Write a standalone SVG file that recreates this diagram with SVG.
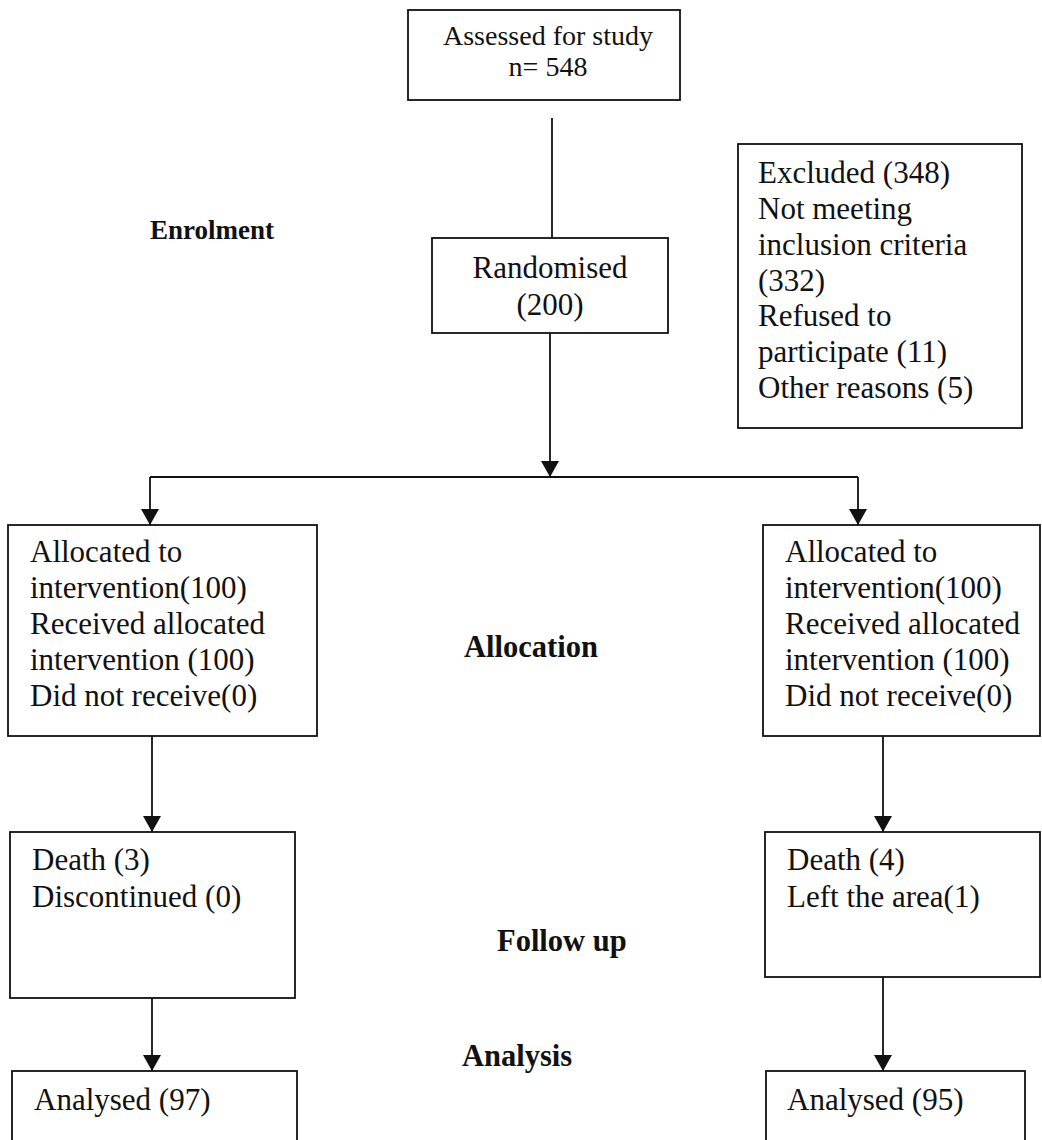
<svg xmlns="http://www.w3.org/2000/svg" width="1042" height="1140" viewBox="0 0 1042 1140">
<style>
.box{fill:#fff;stroke:#111;stroke-width:1.8}
.t{font-family:"Liberation Serif","Times New Roman",serif;font-size:31px;fill:#111}
.ts{font-family:"Liberation Serif","Times New Roman",serif;font-size:28px;fill:#111}
.lab{font-family:"Liberation Serif","Times New Roman",serif;font-size:30.5px;font-weight:bold;fill:#111}
.ln{fill:none;stroke:#111;stroke-width:1.8}
</style>
<defs>
<marker id="ah" markerUnits="userSpaceOnUse" markerWidth="18" markerHeight="18" refX="16" refY="9" orient="auto">
<path d="M0,0 L16,9 L0,18 z" fill="#111"/>
</marker>
</defs>
<rect width="1042" height="1140" fill="#fff"/>
<g id="connectors">
<line class="ln" x1="552" y1="118" x2="552" y2="238"/>
<line class="ln" x1="550" y1="333" x2="550" y2="477" marker-end="url(#ah)"/>
<line class="ln" x1="150" y1="477" x2="858" y2="477"/>
<line class="ln" x1="150" y1="477" x2="150" y2="525" marker-end="url(#ah)"/>
<line class="ln" x1="858" y1="477" x2="858" y2="525" marker-end="url(#ah)"/>
<line class="ln" x1="152" y1="736" x2="152" y2="832" marker-end="url(#ah)"/>
<line class="ln" x1="883" y1="736" x2="883" y2="832" marker-end="url(#ah)"/>
<line class="ln" x1="152" y1="998" x2="152" y2="1071" marker-end="url(#ah)"/>
<line class="ln" x1="883" y1="977" x2="883" y2="1071" marker-end="url(#ah)"/>
</g>
<g id="assessed">
<rect class="box" x="408" y="10" width="272" height="90"/>
<text class="ts" x="548" y="45" text-anchor="middle">Assessed for study</text>
<text class="ts" x="548" y="76" text-anchor="middle">n= 548</text>
</g>
<g id="randomised">
<rect class="box" x="432" y="238" width="236" height="95"/>
<text class="t" x="550" y="278" text-anchor="middle">Randomised</text>
<text class="t" x="550" y="315" text-anchor="middle">(200)</text>
</g>
<g id="excluded">
<rect class="box" x="738" y="144" width="284" height="284"/>
<text class="t" x="758" y="183">Excluded (348)</text>
<text class="t" x="758" y="219">Not meeting</text>
<text class="t" x="758" y="255">inclusion criteria</text>
<text class="t" x="758" y="291">(332)</text>
<text class="t" x="758" y="326">Refused to</text>
<text class="t" x="758" y="362">participate (11)</text>
<text class="t" x="758" y="398">Other reasons (5)</text>
</g>
<g id="alloc-left">
<rect class="box" x="8" y="525" width="309" height="211"/>
<text class="t" x="30" y="562">Allocated to</text>
<text class="t" x="30" y="598">intervention(100)</text>
<text class="t" x="30" y="634">Received allocated</text>
<text class="t" x="30" y="670">intervention (100)</text>
<text class="t" x="30" y="706">Did not receive(0)</text>
</g>
<g id="alloc-right">
<rect class="box" x="763" y="525" width="277" height="211"/>
<text class="t" x="785" y="562">Allocated to</text>
<text class="t" x="785" y="598">intervention(100)</text>
<text class="t" x="785" y="634">Received allocated</text>
<text class="t" x="785" y="670">intervention (100)</text>
<text class="t" x="785" y="706">Did not receive(0)</text>
</g>
<g id="follow-left">
<rect class="box" x="10" y="832" width="285" height="166"/>
<text class="t" x="32" y="870">Death (3)</text>
<text class="t" x="32" y="907">Discontinued (0)</text>
</g>
<g id="follow-right">
<rect class="box" x="765" y="832" width="275" height="145"/>
<text class="t" x="787" y="870">Death (4)</text>
<text class="t" x="787" y="907">Left the area(1)</text>
</g>
<g id="analysed-left">
<rect class="box" x="12" y="1071" width="285" height="90"/>
<text class="t" x="34" y="1110">Analysed (97)</text>
</g>
<g id="analysed-right">
<rect class="box" x="766" y="1071" width="259" height="90"/>
<text class="t" x="787" y="1110">Analysed (95)</text>
</g>
<g id="labels">
<text class="lab" x="150" y="239" style="font-size:27px">Enrolment</text>
<text class="lab" x="464" y="657">Allocation</text>
<text class="lab" x="497" y="951">Follow up</text>
<text class="lab" x="462" y="1066">Analysis</text>
</g>
</svg>
